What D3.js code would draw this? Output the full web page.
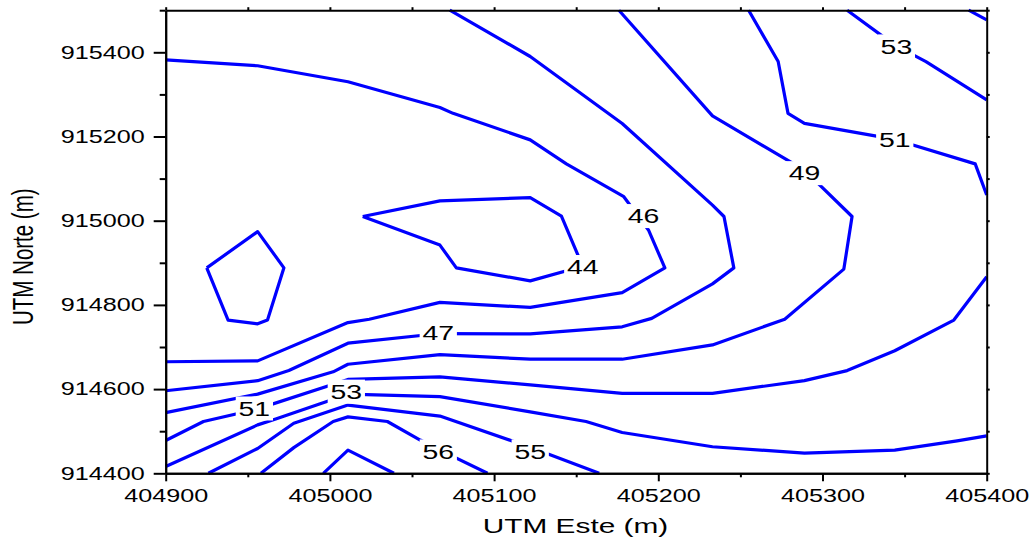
<!DOCTYPE html>
<html>
<head>
<meta charset="utf-8">
<script src="https://cdn.jsdelivr.net/npm/d3@7"></script>
<style>
    body { margin: 0; background: #fff; }
    text { font-family: "Liberation Sans", Arial, sans-serif; fill: #000; }
</style>
</head>
<body>
<div id="chart"></div>
<script>
// Contour polylines, [UTM Este, UTM Norte] in metres
const c44 = [[405020,915010],[405067,915047],[405122,915055],[405141,915011],[405151,914919],[405154,914892],[405122,914857],[405077,914888],[405067,914942],[405020,915010]];
const c45 = [[404925,914888],[404956,914974],[404972,914888],[404962,914764],[404956,914755],[404938,914764],[404925,914888]];
const c46 = [[404900,914665],[404956,914667],[405011,914758],[405024,914766],[405067,914806],[405122,914794],[405178,914829],[405204,914888],[405194,914978],[405179,915057],[405144,915135],[405122,915192],[405075,915255],[405067,915269],[405011,915330],[404956,915368],[404900,915382]];
const c47 = [[404900,914596],[404956,914620],[404975,914644],[405011,914709],[405067,914732],[405122,914731],[405178,914748],[405196,914768],[405233,914850],[405246,914888],[405240,915010],[405233,915037],[405178,915231],[405122,915390],[405073,915500]];
const c49 = [[404900,914544],[404956,914588],[405002,914641],[405011,914659],[405067,914682],[405122,914671],[405178,914671],[405233,914705],[405277,914766],[405313,914885],[405318,915010],[405289,915120],[405233,915249],[405176,915500]];
const c51a = [[404900,914478],[404923,914523],[404956,914553],[405011,914623],[405067,914629],[405122,914610],[405178,914590],[405233,914590],[405289,914620],[405315,914644],[405344,914691],[405380,914764],[405400,914867]];
const c51b = [[405255,915500],[405273,915378],[405279,915255],[405289,915231],[405344,915193],[405393,915135],[405400,915061]];
const c53a = [[404900,914416],[404956,914515],[404967,914529],[404999,914572],[405011,914588],[405067,914582],[405122,914546],[405156,914523],[405178,914497],[405233,914463],[405289,914448],[405344,914455],[405382,914477],[405400,914489]];
const c53b = [[405315,915500],[405344,915417],[405363,915378],[405400,915287]];
const c55a = [[404926,914400],[404956,914459],[404978,914519],[405011,914562],[405067,914536],[405122,914462],[405164,914400]];
const c55b = [[405389,915500],[405400,915477]];
const c56 = [[404958,914400],[404978,914461],[405002,914523],[405011,914534],[405035,914523],[405055,914479],[405067,914455],[405096,914400]];
const c57 = [[404996,914400],[405011,914455],[405039,914400]];

const contourLines = [c44, c45, c46, c47, c49, c51a, c51b, c53a, c53b, c55a, c55b, c56, c57];

// Contour labels: [value, Este, Norte]
const contourLabels = [
    [44, 405154, 914890],
    [46, 405191, 915011],
    [47, 405066, 914733],
    [49, 405289, 915113],
    [51, 404954, 914554],
    [51, 405344, 915193],
    [53, 405010, 914594],
    [53, 405345, 915414],
    [55, 405122, 914452],
    [56, 405066, 914452]
];

const xTicks = [404900, 405000, 405100, 405200, 405300, 405400];
const xMinor = [404950, 405050, 405150, 405250, 405350];
const yTicks = [914400, 914600, 914800, 915000, 915200, 915400];
const yMinor = [914500, 914700, 914900, 915100, 915300, 915500];

const width = 1033, height = 540;
const stretch = 1.4; // text in the reference is widened horizontally

const svg = d3.select("#chart")
    .append("svg")
    .attr("width", width)
    .attr("height", height);

const x = d3.scaleLinear().domain([404900, 405400]).range([165.7, 986.7]);
const y = d3.scaleLinear().domain([914400, 915500]).range([473.3, 10.2]);

// Contour lines
const line = d3.line().x(d => x(d[0])).y(d => y(d[1]));
svg.append("g")
    .selectAll("path")
    .data(contourLines)
    .join("path")
    .attr("d", line)
    .attr("fill", "none")
    .attr("stroke", "#0000ff")
    .attr("stroke-width", 3.2)
    .attr("stroke-linejoin", "round");

// Contour labels with white boxes
contourLabels.forEach(([v, e, n]) => {
    const g = svg.append("g")
        .attr("transform", `translate(${x(e)},${y(n)}) scale(1.42,1)`);
    const rect = g.append("rect").attr("fill", "#fff");
    const t = g.append("text")
        .attr("text-anchor", "middle")
        .attr("dy", "0.358em")
        .attr("font-size", 20)
        .text(v);
    const w = t.node().getComputedTextLength();
    rect.attr("x", -w / 2 - 2).attr("y", -12).attr("width", w + 4).attr("height", 24);
});

// Axes
const styleAxis = (g) => {
    g.select(".domain").attr("stroke", "#000").attr("stroke-width", 2);
    g.selectAll(".tick line").attr("stroke", "#000").attr("stroke-width", 2);
    g.attr("font-family", null).attr("font-size", 18);
};

svg.append("g")
    .attr("transform", "translate(0,473.3)")
    .call(d3.axisBottom(x).tickValues(xMinor).tickSize(4).tickSizeOuter(0).tickFormat(""))
    .call(styleAxis);
svg.append("g")
    .attr("transform", "translate(0,473.3)")
    .call(d3.axisBottom(x).tickValues(xTicks).tickSize(8).tickPadding(8).tickSizeOuter(0).tickFormat(d3.format("d")))
    .call(styleAxis)
    .selectAll("text").attr("transform", `scale(${stretch},1)`);

svg.append("g")
    .attr("transform", "translate(165.7,0)")
    .call(d3.axisLeft(y).tickValues(yMinor).tickSize(6).tickSizeOuter(0).tickFormat(""))
    .call(styleAxis);
svg.append("g")
    .attr("transform", "translate(165.7,0)")
    .call(d3.axisLeft(y).tickValues(yTicks).tickSize(12).tickPadding(3).tickSizeOuter(0).tickFormat(d3.format("d")))
    .call(styleAxis)
    .selectAll("text").attr("transform", `scale(${stretch},1)`);

svg.append("g")
    .attr("transform", "translate(0,10.2)")
    .call(d3.axisTop(x).tickValues(xTicks.concat(xMinor)).tickSize(3).tickSizeOuter(0).tickFormat(""))
    .call(styleAxis);
svg.append("g")
    .attr("transform", "translate(986.7,0)")
    .call(d3.axisRight(y).tickValues(yTicks.concat(yMinor)).tickSize(3).tickSizeOuter(0).tickFormat(""))
    .call(styleAxis);

// Axis titles
svg.append("text")
    .attr("transform", `translate(575.5,533.3) scale(1.42,1)`)
    .attr("text-anchor", "middle")
    .attr("font-size", 21)
    .text("UTM Este (m)");

svg.append("text")
    .attr("transform", `translate(33,256.7) rotate(-90) scale(1,1.4)`)
    .attr("text-anchor", "middle")
    .attr("font-size", 20.5)
    .text("UTM Norte (m)");
</script>
</body>
</html>
